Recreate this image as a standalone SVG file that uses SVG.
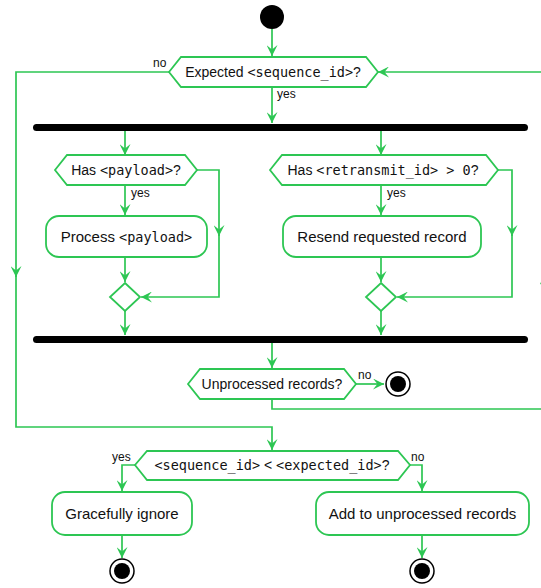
<svg xmlns="http://www.w3.org/2000/svg" width="541" height="588" viewBox="0 0 541 588">
<style>
.ln{fill:none;stroke:#2dc653;stroke-width:1.7}
.hex,.act,.dia{fill:#fff;stroke:#2dc653;stroke-width:1.8}
.t{font-family:"Liberation Sans",Arial,sans-serif;font-size:14px;fill:#111}
.ta{font-family:"Liberation Sans",Arial,sans-serif;font-size:15px;fill:#111}
.m{font-family:"DejaVu Sans Mono","Liberation Mono",monospace;font-size:13.5px}
.lb{font-family:"Liberation Sans",Arial,sans-serif;font-size:12px;fill:#111}
.bar{fill:#000}
</style>
<defs>
<marker id="ah" viewBox="0 0 10 10" refX="10" refY="5" markerWidth="11" markerHeight="11" markerUnits="userSpaceOnUse" orient="auto">
<path d="M0,0 L10,5 L0,10 L4,5 Z" fill="#2dc653"/>
</marker>
</defs>
<rect width="541" height="588" fill="#fff"/>
<g id="connectors">
<path class="ln" d="M272,29 L272,56" marker-end="url(#ah)"/>
<path class="ln" d="M272,87 L272,123" marker-end="url(#ah)"/>
<path class="ln" d="M125,131 L125,155" marker-end="url(#ah)"/>
<path class="ln" d="M125,185 L125,215" marker-end="url(#ah)"/>
<path class="ln" d="M125,257 L125,282" marker-end="url(#ah)"/>
<path class="ln" d="M197,170 L219,170 L219,236" marker-end="url(#ah)"/>
<path class="ln" d="M219,234 L219,297 L141,297" marker-end="url(#ah)"/>
<path class="ln" d="M125,311 L125,335" marker-end="url(#ah)"/>
<path class="ln" d="M381,131 L381,155" marker-end="url(#ah)"/>
<path class="ln" d="M381,185 L381,215" marker-end="url(#ah)"/>
<path class="ln" d="M381,257 L381,282" marker-end="url(#ah)"/>
<path class="ln" d="M498,170 L512,170 L512,236" marker-end="url(#ah)"/>
<path class="ln" d="M512,234 L512,297 L397,297" marker-end="url(#ah)"/>
<path class="ln" d="M381,311 L381,335" marker-end="url(#ah)"/>
<path class="ln" d="M272,343 L272,368" marker-end="url(#ah)"/>
<path class="ln" d="M356,384 L384,384" marker-end="url(#ah)"/>
<path class="ln" d="M272,399 L272,409 L545,409 L545,274" marker-end="url(#ah)"/>
<path class="ln" d="M545,276 L545,72 L378,72" marker-end="url(#ah)"/>
<path class="ln" d="M169,72 L16,72 L16,277" marker-end="url(#ah)"/>
<path class="ln" d="M16,275 L16,427 L272,427 L272,450" marker-end="url(#ah)"/>
<path class="ln" d="M135,465 L122,465 L122,491" marker-end="url(#ah)"/>
<path class="ln" d="M410,465 L422,465 L422,491" marker-end="url(#ah)"/>
<path class="ln" d="M122,535 L122,558" marker-end="url(#ah)"/>
<path class="ln" d="M422,535 L422,558" marker-end="url(#ah)"/>
<text class="lb" x="153" y="67">no</text>
<text class="lb" x="277" y="98">yes</text>
<text class="lb" x="131" y="197">yes</text>
<text class="lb" x="387" y="197">yes</text>
<text class="lb" x="358" y="379">no</text>
<text class="lb" x="112" y="461">yes</text>
<text class="lb" x="411" y="461">no</text>
</g>
<g id="start"><circle cx="272" cy="17" r="12" fill="#000"/></g>
<g id="check-sequence">
<polygon class="hex" points="169,72 181,57 366,57 378,72 366,87 181,87"/>
<text class="t" x="273" y="77" text-anchor="middle">Expected <tspan class="m">&lt;sequence_id&gt;</tspan>?</text>
</g>
<g id="fork"><rect class="bar" x="33" y="124" width="495" height="7" rx="3.5"/></g>
<g id="has-payload">
<polygon class="hex" points="55,170 67,155 185,155 197,170 185,185 67,185"/>
<text class="t" x="126" y="175" text-anchor="middle">Has <tspan class="m">&lt;payload&gt;</tspan>?</text>
</g>
<g id="process-payload">
<rect class="act" x="46" y="216" width="161" height="41" rx="13"/>
<text class="ta" x="126.5" y="242" text-anchor="middle">Process <tspan class="m" font-size="14.5px">&lt;payload&gt;</tspan></text>
</g>
<g id="merge-1"><polygon class="dia" points="125,283 140,297 125,311 110,297"/></g>
<g id="has-retransmit">
<polygon class="hex" points="270,170 282,155 486,155 498,170 486,185 282,185"/>
<text class="t" x="383" y="175" text-anchor="middle">Has <tspan class="m">&lt;retransmit_id&gt; &gt; 0</tspan>?</text>
</g>
<g id="resend-record">
<rect class="act" x="283" y="216" width="198" height="41" rx="13"/>
<text class="ta" x="382" y="242" text-anchor="middle">Resend requested record</text>
</g>
<g id="merge-2"><polygon class="dia" points="381,283 396,297 381,311 366,297"/></g>
<g id="join"><rect class="bar" x="33" y="336" width="495" height="7" rx="3.5"/></g>
<g id="unprocessed">
<polygon class="hex" points="188,384 200,369 344,369 356,384 344,399 200,399"/>
<text class="t" x="272" y="389" text-anchor="middle">Unprocessed records?</text>
</g>
<g id="end-1"><circle cx="398" cy="384" r="12" fill="#fff" stroke="#000" stroke-width="1.5"/><circle cx="398" cy="384" r="8" fill="#000"/></g>
<g id="compare-ids">
<polygon class="hex" points="135,465 147,451 398,451 410,465 398,480 147,480"/>
<text class="t" x="272" y="470" text-anchor="middle"><tspan class="m">&lt;sequence_id&gt;</tspan> &lt; <tspan class="m">&lt;expected_id&gt;</tspan>?</text>
</g>
<g id="gracefully-ignore">
<rect class="act" x="52" y="492" width="140" height="43" rx="13"/>
<text class="ta" x="122" y="519" text-anchor="middle">Gracefully ignore</text>
</g>
<g id="add-unprocessed">
<rect class="act" x="316" y="492" width="213" height="43" rx="13"/>
<text class="ta" x="422.5" y="519" text-anchor="middle">Add to unprocessed records</text>
</g>
<g id="end-2"><circle cx="122" cy="571" r="12" fill="#fff" stroke="#000" stroke-width="1.5"/><circle cx="122" cy="571" r="8" fill="#000"/></g>
<g id="end-3"><circle cx="422" cy="571" r="12" fill="#fff" stroke="#000" stroke-width="1.5"/><circle cx="422" cy="571" r="8" fill="#000"/></g>
</svg>
